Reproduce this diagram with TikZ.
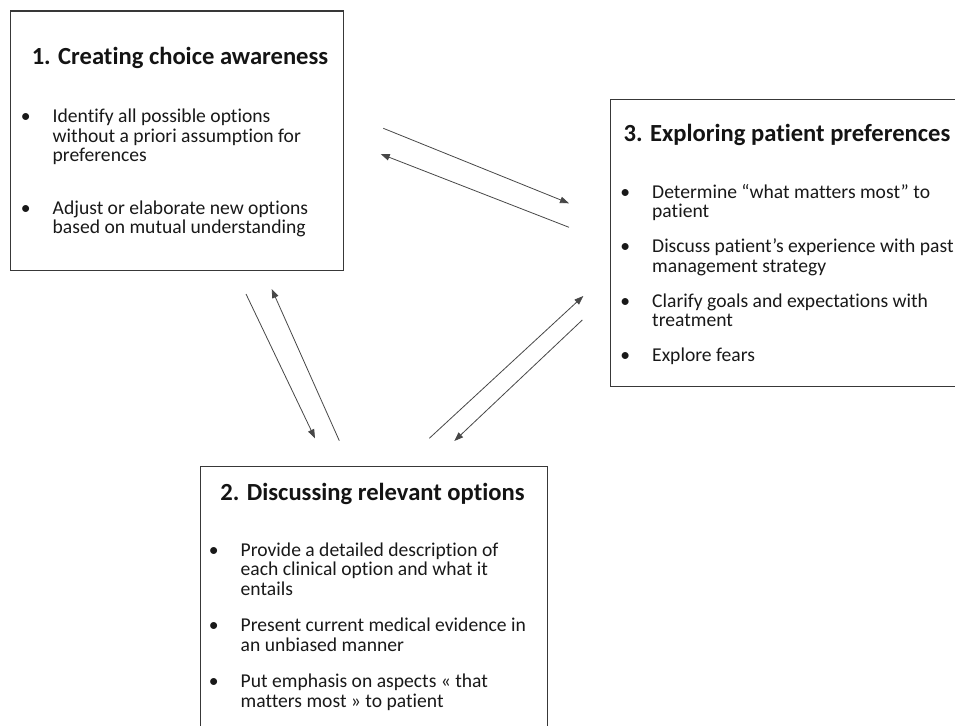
\documentclass[tikz,border=0pt]{standalone}
\usepackage{fontspec}
\setmainfont[RawFeature={-liga;-clig;-dlig}]{Carlito}
\usetikzlibrary{arrows.meta}
\newcommand{\bul}{\makebox[27pt][l]{\makebox[0pt]{\textbullet}}}
\begin{document}
\begin{tikzpicture}[x=1pt,y=-1pt,
  boxframe/.style={draw=black!78, line width=1.3pt, inner sep=0pt, anchor=north west},
  titletext/.style={font=\fontsize{24.6}{28}\selectfont\bfseries, text=black!92, anchor=base, inner sep=0pt},
  bodytext/.style={font=\fontsize{19.6}{19.5}\selectfont, text=black!90, anchor=base west, inner sep=0pt},
  link/.style={draw=black!72, line width=0.8pt, -{Triangle[length=9pt,width=6.5pt]}}]
\clip (0,0) rectangle (955,725);
\fill[white] (0,0) rectangle (955,725);
% boxes
\node[boxframe, minimum width=333pt, minimum height=259pt] (box1) at (10,10.5) {};
\node[boxframe, minimum width=360pt, minimum height=287pt] (box3) at (610,99) {};
\node[boxframe, minimum width=347pt, minimum height=300pt] (box2) at (199.5,466) {};
% titles
\node[titletext] (t1) at (180,64) {1. Creating choice awareness};
\node[titletext] (t2) at (372.5,500) {2. Discussing relevant options};
\node[titletext] (t3) at (787,141) {3. Exploring patient preferences};
% lists
\node[bodytext] (l1) at (25.5,122.5) {\begin{tabular}[t]{@{}l@{}l@{}}
\bul & Identify all possible options\\
 & without a priori assumption for\\
 & preferences\\[33pt]
\bul & Adjust or elaborate new options\\
 & based on mutual understanding
\end{tabular}};
\node[bodytext] (l2) at (213.5,556) {\begin{tabular}[t]{@{}l@{}l@{}}
\bul & Provide a detailed description of\\
 & each clinical option and what it\\
 & entails\\[17pt]
\bul & Present current medical evidence in\\
 & an unbiased manner\\[17pt]
\bul & Put emphasis on aspects « that\\
 & matters most » to patient
\end{tabular}};
\node[bodytext] (l3) at (625,198) {\begin{tabular}[t]{@{}l@{}l@{}}
\bul & Determine “what matters most” to\\
 & patient\\[15.5pt]
\bul & Discuss patient’s experience with past\\
 & management strategy\\[15.5pt]
\bul & Clarify goals and expectations with\\
 & treatment\\[15.5pt]
\bul & Explore fears
\end{tabular}};
% arrow end points
\coordinate (a1s) at (383.3,128.3); \coordinate (a1e) at (569,203.3);
\coordinate (a2s) at (569,227.3);   \coordinate (a2e) at (380.7,154);
\coordinate (a3s) at (246,294);     \coordinate (a3e) at (315,438.3);
\coordinate (a4s) at (339.3,440.7); \coordinate (a4e) at (271.7,289);
\coordinate (a5s) at (429.3,438.3); \coordinate (a5e) at (583.3,296);
\coordinate (a6s) at (582.3,320);   \coordinate (a6e) at (454.3,441);
\draw[link] (a1s) -- (a1e);
\draw[link] (a2s) -- (a2e);
\draw[link] (a3s) -- (a3e);
\draw[link] (a4s) -- (a4e);
\draw[link] (a5s) -- (a5e);
\draw[link] (a6s) -- (a6e);
\end{tikzpicture}
\end{document}
